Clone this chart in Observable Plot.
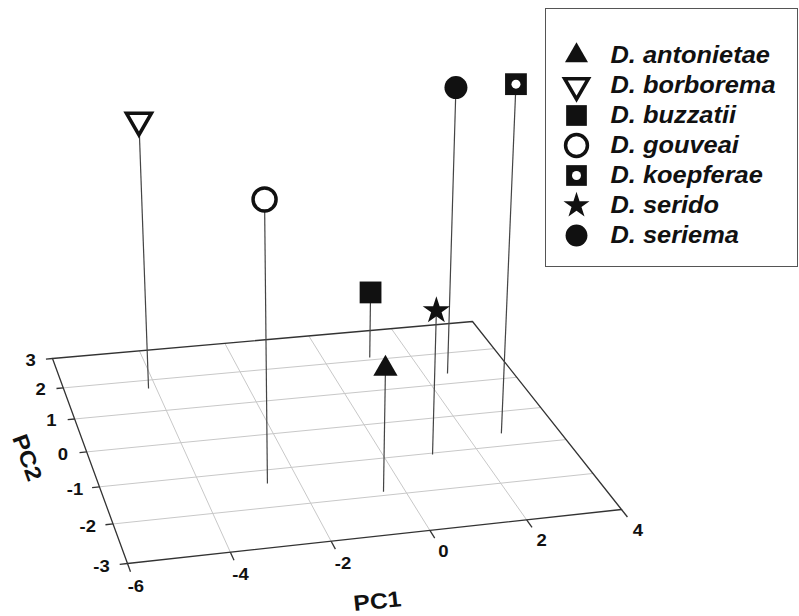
<!DOCTYPE html>
<html><head><meta charset="utf-8">
<script src="https://cdn.jsdelivr.net/npm/d3@7"></script>
<script src="https://cdn.jsdelivr.net/npm/@observablehq/plot@0.6"></script>
<style>
body{margin:0;background:#fff;font-family:"Liberation Sans",Arial,sans-serif;}
#wrap{position:relative;width:799px;height:616px;overflow:hidden;background:#fff}
#chart{position:absolute;left:0;top:0}
#legend{position:absolute;left:545px;top:8px;width:253px;height:259px;border:1.5px solid #555;box-sizing:border-box;background:#fff}
</style></head><body><div id="wrap"><div id="chart"></div><div id="legend"></div></div>
<script>
// ---- data ----
const species = ["D. antonietae","D. borborema","D. buzzatii","D. gouveai","D. koepferae","D. serido","D. seriema"];
const pc1 = [-0.44, -4.17, 1.06, -2.65, 2.75, 1.02, 2.54];
const pc2 = [-1.90, 1.73, 2.08, -1.37, -0.64, -1.04, 1.33];
const pc3 = [-0.81, 2.22, -1.69, 2.09, 3.56, -0.35, 2.67];
const pc1Ticks = [-6, -4, -2, 0, 2, 4];
const pc2Ticks = [-3, -2, -1, 0, 1, 2, 3];
const pc3Floor = -3;

// ---- marker styles (keyed by species) ----
const markerStyle = {
  "D. antonietae": {symbol:"triangle", r:9, fill:"#111", stroke:"none", sw:0, rotate:0},
  "D. borborema":  {symbol:"triangle", r:9.3, fill:"#fff", stroke:"#111", sw:3.5, rotate:180},
  "D. buzzatii":   {symbol:"square", r:12.3, fill:"#111", stroke:"none", sw:0, rotate:0},
  "D. gouveai":    {symbol:"circle", r:11.5, fill:"#fff", stroke:"#111", sw:3.5, rotate:0},
  "D. koepferae":  {symbol:"square", r:12.3, fill:"#111", stroke:"none", sw:0, rotate:0, inner:4.5},
  "D. serido":     {symbol:"star", r:8.6, fill:"#111", stroke:"none", sw:0, rotate:0},
  "D. seriema":    {symbol:"circle", r:11.5, fill:"#111", stroke:"none", sw:0, rotate:0}
};

// ---- oblique perspective projection of the floor box ----
const dom1 = d3.extent(pc1Ticks), dom2 = d3.extent(pc2Ticks);
// screen corners: back-left, back-right, front-right, front-left
const C = [[52,358],[472,321],[621,509],[127,563]];
const V = [312, 4950];   // vanishing point of vertical lines
const zPx = 50;          // px per PC3 unit at unit depth
function makeH(c){
  const [x0,y0]=c[0],[x1,y1]=c[1],[x2,y2]=c[2],[x3,y3]=c[3];
  const dx1=x1-x2, dx2=x3-x2, dx3=x0-x1+x2-x3;
  const dy1=y1-y2, dy2=y3-y2, dy3=y0-y1+y2-y3;
  const den=dx1*dy2-dx2*dy1;
  const g=(dx3*dy2-dx2*dy3)/den, h=(dx1*dy3-dx3*dy1)/den;
  return {a:x1-x0+g*x1, b:x3-x0+h*x3, c:x0, d:y1-y0+g*y1, e:y3-y0+h*y3, f:y0, g, h};
}
const H = makeH(C);
function project(p1, p2, p3){
  const u=(p1-dom1[0])/(dom1[1]-dom1[0]);
  const v=(dom2[1]-p2)/(dom2[1]-dom2[0]);
  const w=H.g*u+H.h*v+1;
  const xb=(H.a*u+H.b*v+H.c)/w, yb=(H.d*u+H.e*v+H.f)/w;
  if (p3 === undefined) return [xb,yb];
  const hp=(p3-pc3Floor)*zPx/w;
  return [xb+(xb-V[0])*hp/(V[1]-yb), yb-hp];
}

// ---- derived tables ----
const pts = species.map((s,i)=>({species:s, pc1:pc1[i], pc2:pc2[i], pc3:pc3[i],
  base:project(pc1[i],pc2[i]), top:project(pc1[i],pc2[i],pc3[i])}));
const grid = [
  ...pc1Ticks.filter(t=>t>dom1[0]&&t<dom1[1]).map(t=>[[t,dom2[0]],[t,dom2[1]]]),
  ...pc2Ticks.filter(t=>t>dom2[0]&&t<dom2[1]).map(t=>[[dom1[0],t],[dom1[1],t]])
].map(([p,q])=>({a:project(...p), b:project(...q)}));
const outline = [[dom1[0],dom2[1]],[dom1[1],dom2[1]],[dom1[1],dom2[0]],[dom1[0],dom2[0]],[dom1[0],dom2[1]]].map(p=>project(...p));
const ticks = [
  ...pc1Ticks.map(t=>({a:project(t,dom2[0]), b:project(t,dom2[0]-0.2)})),
  ...pc2Ticks.map(t=>({a:project(dom1[0],t), b:project(dom1[0]-0.15,t)}))
];
const labels = [
  ...pc1Ticks.map(t=>({text:String(t), p:project(t,dom2[0]-0.55)})),
  ...pc2Ticks.map(t=>({text:String(t), p:project(dom1[0]-0.5,t)}))
];
const titles = [
  {text:"PC1", p:project(-1.75,-4.5), rotate:-6},
  {text:"PC2", p:project(-7.25,0), rotate:70}
];

const markMarks = species.map(s=>{
  const st=markerStyle[s];
  const d=pts.filter(p=>p.species===s);
  const arr=[Plot.dot(d,{x:p=>p.top[0], y:p=>p.top[1], symbol:st.symbol, r:st.r, fill:st.fill,
    stroke:st.stroke, strokeWidth:st.sw, rotate:st.rotate, strokeLinejoin:"miter"})];
  if (st.inner) arr.push(Plot.dot(d,{x:p=>p.top[0], y:p=>p.top[1], r:st.inner, fill:"#fff"}));
  return arr;
}).flat();

const chart = Plot.plot({
  width:799, height:616, margin:0,
  x:{type:"identity", axis:null}, y:{type:"identity", axis:null},
  style:{background:"transparent", fontFamily:"'Liberation Sans', Arial, sans-serif"},
  marks:[
    Plot.link(grid,{x1:d=>d.a[0],y1:d=>d.a[1],x2:d=>d.b[0],y2:d=>d.b[1],stroke:"#c8c8c8",strokeWidth:1}),
    Plot.line(outline,{x:d=>d[0],y:d=>d[1],stroke:"#333",strokeWidth:1.3}),
    Plot.link(ticks,{x1:d=>d.a[0],y1:d=>d.a[1],x2:d=>d.b[0],y2:d=>d.b[1],stroke:"#333",strokeWidth:1.3}),
    Plot.text(labels,{x:d=>d.p[0],y:d=>d.p[1],text:"text",fontSize:16.5,fontWeight:"bold",fill:"#111",textAnchor:"middle",lineAnchor:"middle"}),
    Plot.text(titles,{x:d=>d.p[0],y:d=>d.p[1],text:"text",rotate:"rotate",fontSize:22,fontWeight:"bold",fill:"#111",textAnchor:"middle",lineAnchor:"middle"}),
    Plot.link(pts,{x1:d=>d.base[0],y1:d=>d.base[1],x2:d=>d.top[0],y2:d=>d.top[1],stroke:"#444",strokeWidth:1.2}),
    ...markMarks
  ]
});
document.getElementById("chart").append(chart);

// ---- legend ----
const legMarks = species.map(s=>{
  const st=markerStyle[s];
  const arr=[Plot.dot([s],{y:d=>d, frameAnchor:"left", dx:30, symbol:st.symbol, r:st.r*0.95, fill:st.fill,
    stroke:st.stroke, strokeWidth:st.sw, rotate:st.rotate})];
  if (st.inner) arr.push(Plot.dot([s],{y:d=>d, frameAnchor:"left", dx:30, r:st.inner, fill:"#fff"}));
  return arr;
}).flat();
const legend = Plot.plot({
  width:250, height:256, margin:0,
  y:{type:"point", domain:species, range:[28,243], axis:null},
  style:{background:"transparent", fontFamily:"'Liberation Sans', Arial, sans-serif"},
  marks:[
    ...legMarks,
    Plot.text(species,{y:d=>d, text:d=>d, frameAnchor:"left", dx:64, textAnchor:"start", lineAnchor:"middle",
      fontSize:23.5, fontWeight:"bold", fontStyle:"italic", fill:"#111"})
  ]
});
document.getElementById("legend").append(legend);

// the reference's lettering is slightly wide: stretch text horizontally
function widen(svg, k){
  svg.querySelectorAll("text").forEach(t=>{
    const L=t.getComputedTextLength();
    if (L>0){ t.setAttribute("textLength", (L*k).toFixed(1)); t.setAttribute("lengthAdjust","spacingAndGlyphs"); }
  });
}
widen(legend, 1.08);
widen(chart, 1.12);
</script></body></html>
